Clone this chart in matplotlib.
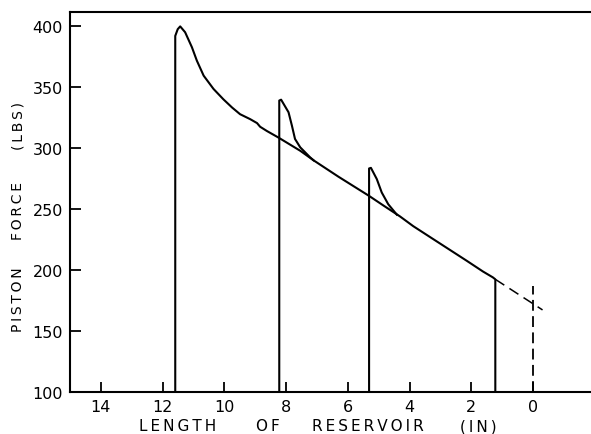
import matplotlib
matplotlib.use("Agg")
import matplotlib.pyplot as plt

# ---- data ----
# main trace: first stroke, decays onto the straight line and ends at 1.22 in
trace1_x = [11.59, 11.59, 11.51, 11.43, 11.27, 11.05, 10.89, 10.67, 10.35, 10.03,
            9.75, 9.49, 9.16, 8.94, 8.84, 8.62, 8.25, 7.54, 7.11, 6.30, 5.31,
            4.85, 4.31, 3.88, 3.24, 2.69, 2.14, 1.62, 1.30, 1.22, 1.22]
trace1_y = [100, 392, 397.5, 399.8, 395, 382.7, 371.7, 359.4, 348.5, 340,
            333.3, 327.8, 323.7, 320.5, 317.5, 314, 308.7, 297.8, 290.0, 276.5, 260.8,
            253.0, 244.0, 236.0, 225.5, 216.5, 207.5, 198.8, 194.0, 192.4, 100]
# second stroke
trace2_x = [8.22, 8.22, 8.16, 7.92, 7.81, 7.71, 7.54, 7.22, 7.11]
trace2_y = [100, 339, 339.7, 329.4, 318.4, 307.5, 300.6, 292.4, 290.0]
# third stroke
trace3_x = [5.31, 5.31, 5.25, 5.06, 4.90, 4.69, 4.41]
trace3_y = [100, 283.3, 283.8, 274.6, 263.6, 254.0, 245.4]
# dashed extrapolation of the straight line
extrap_x = [1.22, -0.31]
extrap_y = [192.4, 167.3]
# dashed marker at zero length
zero_x = [0, 0]
zero_y = [100, 187]

xticks = [14, 12, 10, 8, 6, 4, 2, 0]
yticks = [100, 150, 200, 250, 300, 350, 400]

# ---- figure ----
fig = plt.figure(figsize=(5.91, 4.35), dpi=100)
ax = fig.add_axes([70 / 591, 42 / 435, 1 - 70 / 591, (422 - 42) / 435])

lc = "black"
ax.plot(trace1_x, trace1_y, color=lc, lw=1.5, solid_joinstyle="round")
ax.plot(trace2_x, trace2_y, color=lc, lw=1.5, solid_joinstyle="round")
ax.plot(trace3_x, trace3_y, color=lc, lw=1.5, solid_joinstyle="round")
ax.plot(extrap_x, extrap_y, color=lc, lw=1.1, dashes=(7, 4))
ax.plot(zero_x, zero_y, color=lc, lw=1.3, dashes=(6, 3))

ax.set_xlim(15, -1.88)
ax.set_ylim(100, 411.6)

ax.set_xticks(xticks)
ax.set_yticks(yticks)
ax.set_xticklabels([str(t) for t in xticks])
ax.set_yticklabels([str(t) for t in yticks])

ax.spines["right"].set_visible(False)
for s in ["left", "bottom", "top"]:
    ax.spines[s].set_linewidth(1.5)

ax.tick_params(axis="both", direction="in", width=1.3, labelsize=11.5)
ax.tick_params(axis="x", length=7, pad=5)
ax.tick_params(axis="y", length=8, pad=5)

# axis labels, letter-spaced (thin spaces) like the original lettering
TS = "\u2009"


def spaced(w):
    return TS.join(w)


def pxx(x):
    return x / 591


def pxy(y):
    return 1 - y / 435


xl = [("LENGTH", 178), ("OF", 268), ("RESERVOIR", 368), ("(IN)", 478)]
for word, cx in xl:
    fig.text(pxx(cx), pxy(427), spaced(word), ha="center", va="center",
             fontsize=11)

yl = [("PISTON", 300), ("FORCE", 211), ("(LBS)", 126)]
for word, cy in yl:
    fig.text(pxx(18), pxy(cy), spaced(word), ha="center", va="center",
             fontsize=10, rotation=90)

fig.savefig("out.png", dpi=100)
